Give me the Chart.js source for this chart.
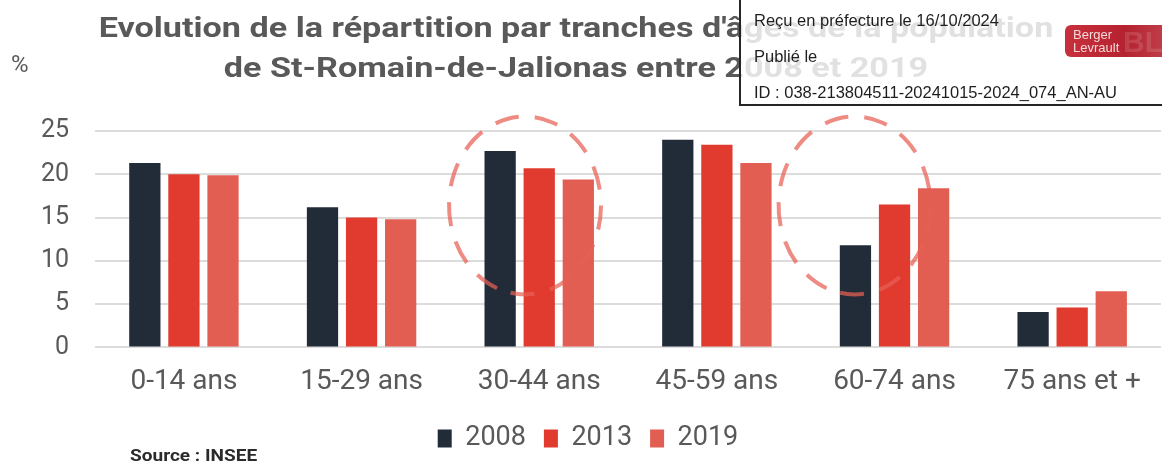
<!DOCTYPE html>
<html lang="fr">
<head>
<meta charset="utf-8">
<title>Evolution de la répartition par tranches d'âges</title>
<script src="https://cdn.jsdelivr.net/npm/chart.js@4.4.1/dist/chart.umd.min.js"></script>
<style>
  html, body { margin: 0; padding: 0; background: #fff; }
  #wrap { position: relative; width: 1162px; height: 462px; overflow: hidden; }
  #chart { position: absolute; left: 0; top: 0; }
  .title { position: absolute; left: 0; top: 8px; width: 1152px; text-align: center;
           font: bold 28px/40px Roboto, sans-serif; color: #595959;
           transform: scaleX(1.22); transform-origin: 576px 0; white-space: nowrap; }
  .unit { position: absolute; left: 11px; top: 50px; font: 24px/28px Roboto, sans-serif; color: #5a5a5a; }
  .source { position: absolute; left: 130px; top: 445px; font: bold 17px/20px Roboto, sans-serif; color: #2b2b2b;
            transform: scaleX(1.12); transform-origin: 0 0; }
  /* tampon de dépôt en préfecture */
  .stamp { position: absolute; left: 739px; top: -3px; width: 440px; height: 105px;
           border: 2px solid #262626; background: rgba(255,255,255,0.82);
           font: 16.5px "Liberation Sans", Arial, sans-serif; color: #1e1e1e; }
  .stamp .line { position: absolute; left: 13px; white-space: nowrap; }
  .stamp .logo { position: absolute; left: 324px; top: 26px; width: 110px; height: 32px; border-radius: 6px;
                 background: linear-gradient(90deg, #c8303c 0%, #b5222f 55%, #c24651 100%); overflow: hidden; }
  .logo .name { position: absolute; left: 8px; top: 4px; font: 13px/12.5px "Liberation Sans", Arial, sans-serif; color: #f4d9db; }
  .logo .mark { position: absolute; left: 58px; top: 2px; font: bold 30px/30px "Liberation Sans", Arial, sans-serif; color: rgba(255,255,255,0.13); }
</style>
</head>
<body>
<div id="wrap">
  <canvas id="chart" width="1162" height="462"></canvas>
  <div class="title">Evolution de la répartition par tranches d'âges de la population<br>de St-Romain-de-Jalionas entre 2008 et 2019</div>
  <div class="unit">%</div>
  <div class="source">Source : INSEE</div>
  <div class="stamp">
    <div class="line" style="top:12px">Reçu en préfecture le 16/10/2024</div>
    <div class="line" style="top:48px">Publié le</div>
    <div class="line" style="top:84px">ID : 038-213804511-20241015-2024_074_AN-AU</div>
    <div class="logo"><span class="name">Berger<br>Levrault</span><span class="mark">BL</span></div>
  </div>
</div>
<script>
// Tranches d'âges et parts de la population (%)
const categories = ['0-14 ans', '15-29 ans', '30-44 ans', '45-59 ans', '60-74 ans', '75 ans et +'];
const years = ['2008', '2013', '2019'];
const values2008 = [21.3, 16.2, 22.7, 24.0, 11.8, 4.1];
const values2013 = [20.0, 15.0, 20.7, 23.4, 16.5, 4.6];
const values2019 = [19.9, 14.8, 19.4, 21.3, 18.4, 6.5];
const yTicks = [0, 5, 10, 15, 20, 25];

const colors = ['#222b38', '#e03b2e', '#e35e52'];
const grey = '#595959';

// cercles en pointillés autour de 30-44 ans et 60-74 ans
const highlights = [
    { x: 1.92, y: 16.4, rx: 76, ry: 89 },
    { x: 3.775, y: 16.4, rx: 76, ry: 89 }
];

const highlightPlugin = {
    id: 'highlightCircles',
    afterDatasetsDraw(chart) {
        const ctx = chart.ctx;
        const xs = chart.scales.x;
        const ys = chart.scales.y;
        ctx.save();
        ctx.strokeStyle = 'rgba(232, 95, 85, 0.72)';
        ctx.lineWidth = 4;
        ctx.setLineDash([24, 16]);
        highlights.forEach(h => {
            const cx = xs.getPixelForValue(h.x);
            const cy = ys.getPixelForValue(h.y);
            ctx.beginPath();
            ctx.ellipse(cx, cy, h.rx, h.ry, 0, Math.PI * 0.62, Math.PI * 2.62);
            ctx.stroke();
        });
        ctx.restore();
    }
};

const datasets = [values2008, values2013, values2019].map((vals, i) => ({
    label: years[i],
    data: vals,
    backgroundColor: colors[i],
    categoryPercentage: 0.66,
    barPercentage: 0.8
}));

new Chart(document.getElementById('chart'), {
    type: 'bar',
    data: { labels: categories, datasets: datasets },
    options: {
        responsive: false,
        animation: false,
        layout: { padding: { left: 15, right: 1, top: 131, bottom: 0 } },
        scales: {
            x: {
                grid: { display: false, drawTicks: false },
                border: { display: false },
                ticks: { color: grey, font: { family: 'Roboto', size: 28 }, padding: 18 },
                // rapproche la légende des libellés
                afterFit(scale) { scale.height -= 10; }
            },
            y: {
                min: 0,
                max: 25,
                afterBuildTicks(scale) { scale.ticks = yTicks.map(v => ({ value: v })); },
                grid: { color: '#dcdcdc', lineWidth: 2, drawTicks: false },
                border: { display: false },
                ticks: { color: grey, font: { family: 'Roboto', size: 25 }, padding: 26 }
            }
        },
        plugins: {
            title: { display: false },
            legend: {
                position: 'bottom',
                labels: {
                    color: grey,
                    font: { family: 'Roboto', size: 27 },
                    boxWidth: 14,
                    boxHeight: 18,
                    padding: 18
                }
            },
            tooltip: { enabled: false }
        }
    },
    plugins: [highlightPlugin]
});
</script>
</body>
</html>
